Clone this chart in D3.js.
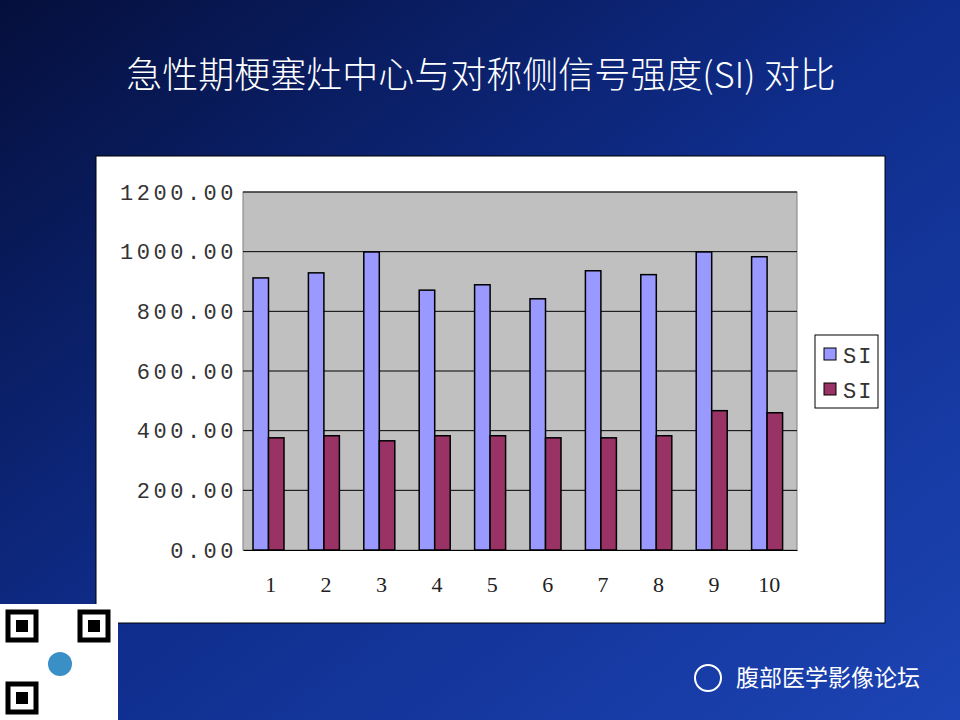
<!DOCTYPE html><html><head><meta charset="utf-8">
<script src="https://cdn.jsdelivr.net/npm/d3@7"></script>
<style>body{margin:0}svg{display:block}</style></head><body><svg id="c" width="960" height="720"></svg>
<script>
const categories=["1","2","3","4","5","6","7","8","9","10"];
const seriesNames=["SI","SI"];
const centerSI=[912,929,999,871,889,842,936,923,999,983];
const contraSI=[376,383,366,383,383,376,376,383,467,460];
const yTicks=[0,200,400,600,800,1000,1200];
const colors=["#9999ff","#993366"];
const svg=d3.select("#c");
const defs=svg.append("defs");
const g=defs.append("linearGradient").attr("id","bg").attr("x1","0").attr("y1","0").attr("x2","1").attr("y2","1");
g.append("stop").attr("offset","0").attr("stop-color","#050f3c");
g.append("stop").attr("offset","0.5").attr("stop-color","#0f2d8c");
g.append("stop").attr("offset","1").attr("stop-color","#1c44b4");
svg.append("rect").attr("width",960).attr("height",720).attr("fill","url(#bg)");
svg.append("text").attr("x",481).attr("y",88).attr("text-anchor","middle").attr("fill","#fff")
 .attr("font-family","Noto Sans CJK SC").attr("font-weight",300).attr("font-size",36).text("急性期梗塞灶中心与对称侧信号强度(SI) 对比");
svg.append("rect").attr("x",96).attr("y",156).attr("width",789).attr("height",467).attr("fill","#fff").attr("stroke","#000");
const L=243,R=797,T=192,B=550;
const x=d3.scaleBand().domain(categories).range([L,R]);
const y=d3.scaleLinear().domain([0,1200]).range([B,T]);
svg.append("rect").attr("x",L).attr("y",T).attr("width",R-L).attr("height",B-T).attr("fill","#c0c0c0").attr("stroke","#808080");
svg.selectAll(".gl").data(yTicks.slice(1)).join("line").attr("x1",L).attr("x2",R).attr("y1",d=>y(d)).attr("y2",d=>y(d)).attr("stroke","#000");
const ya=svg.append("g").attr("transform",`translate(${L},0)`).call(d3.axisLeft(y).tickValues(yTicks).tickFormat(d3.format(".2f")).tickSize(0).tickPadding(6));
ya.select(".domain").remove();
ya.selectAll("text").attr("font-family","Liberation Mono").attr("font-size",22).attr("letter-spacing",3.5).attr("fill","#333");
const xa=svg.append("g").attr("transform",`translate(0,${B})`).call(d3.axisBottom(x).tickSize(0).tickPadding(26));
xa.select(".domain").attr("stroke","#000");
xa.selectAll("text").attr("font-family","Liberation Serif").attr("font-size",22).attr("fill","#222");
const bw=15.5, off=10;
[centerSI,contraSI].forEach((s,k)=>{
 svg.selectAll(".b"+k).data(s).join("rect").attr("x",(d,i)=>x(categories[i])+off+k*bw).attr("width",bw)
  .attr("y",d=>y(d)).attr("height",d=>B-y(d)).attr("fill",colors[k]).attr("stroke","#000").attr("stroke-width",1.5);
});
svg.append("rect").attr("x",815).attr("y",335).attr("width",63).attr("height",73).attr("fill","#fff").attr("stroke","#000");
seriesNames.forEach((n,k)=>{
 svg.append("rect").attr("x",824).attr("y",348+k*35).attr("width",12).attr("height",12).attr("fill",colors[k]).attr("stroke","#000");
 svg.append("text").attr("x",843).attr("y",363+k*35).attr("font-family","Liberation Mono").attr("font-size",22).attr("letter-spacing",2).attr("fill","#333").text(n);
});
const q=svg.append("g").attr("transform","translate(0,604)");
q.append("rect").attr("width",118).attr("height",116).attr("fill","#fff");
[[8,8],[80,8],[8,80]].forEach(([a,b])=>{q.append("rect").attr("x",a).attr("y",b).attr("width",28).attr("height",28).attr("fill","none").attr("stroke","#000").attr("stroke-width",5);
 q.append("rect").attr("x",a+8).attr("y",b+8).attr("width",12).attr("height",12).attr("fill","#000");});
q.append("circle").attr("cx",60).attr("cy",60).attr("r",12).attr("fill","#3a8fc7");
svg.append("text").attr("x",736).attr("y",686).attr("fill","#fff").attr("font-family","Noto Sans CJK SC").attr("font-size",23).text("腹部医学影像论坛");
svg.append("circle").attr("cx",708).attr("cy",678).attr("r",13).attr("fill","none").attr("stroke","#fff").attr("stroke-width",2);
</script></body></html>
